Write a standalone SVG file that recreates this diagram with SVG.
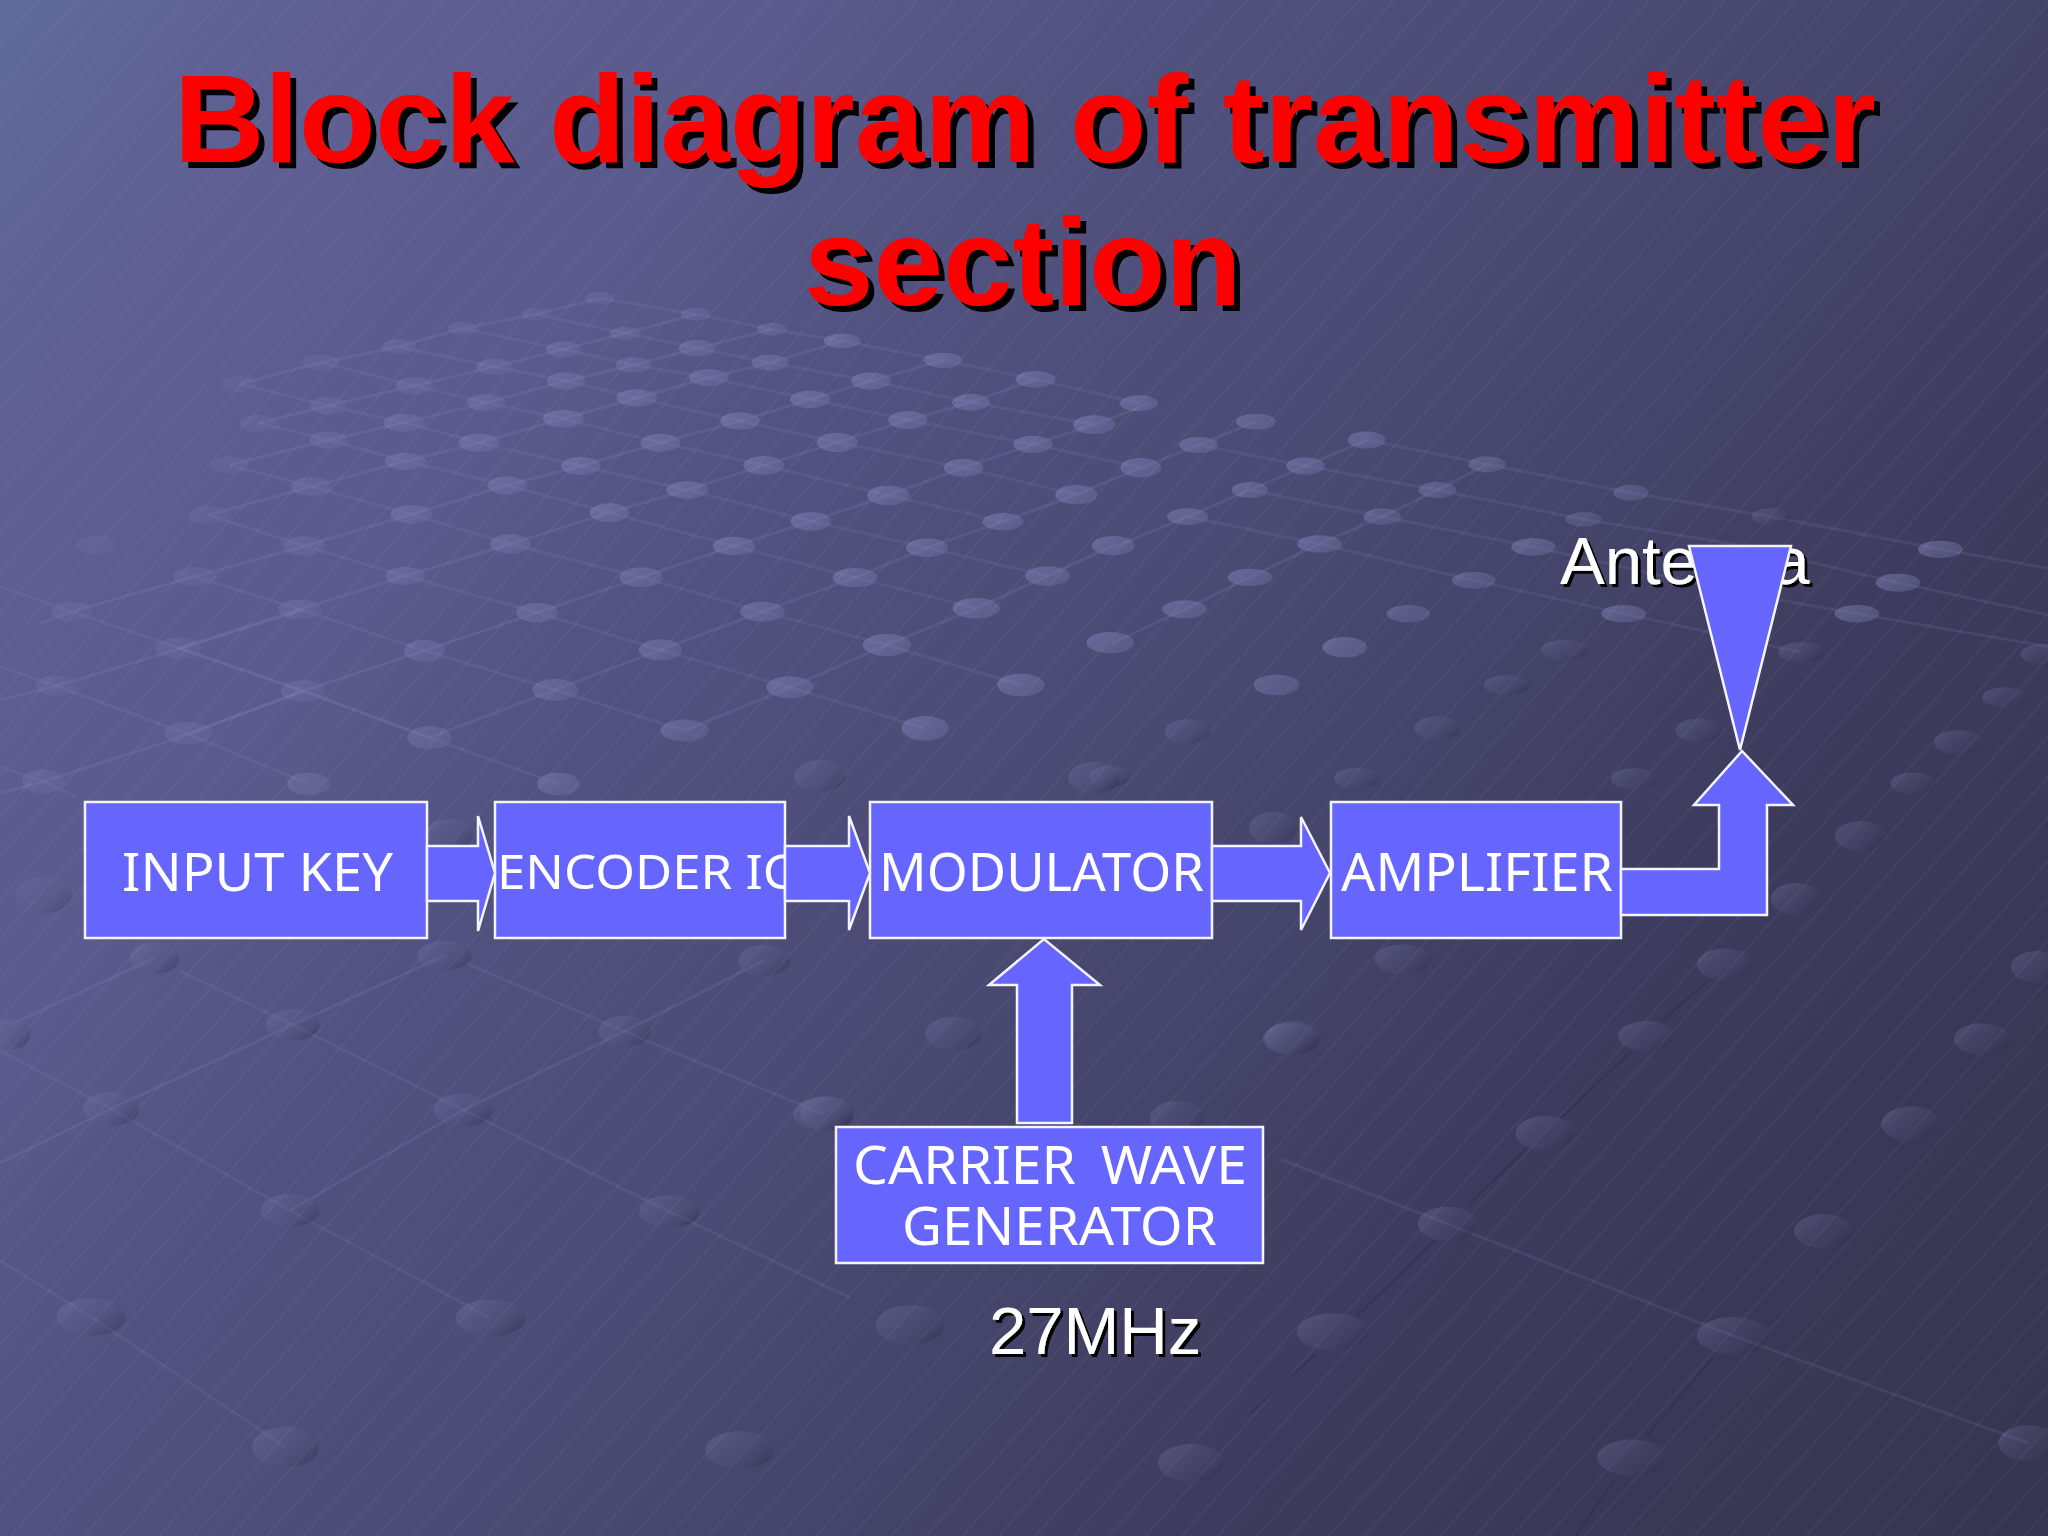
<svg xmlns="http://www.w3.org/2000/svg" width="2048" height="1536" viewBox="0 0 2048 1536">
<style>
.box,.arrow{fill:#6666ff;stroke:#f4f4ff;stroke-width:2.5;stroke-linejoin:miter}
.lbl{font-family:"Noto Sans","DejaVu Sans",sans-serif;fill:#fff;font-size:53px}
.txt{font-family:"Liberation Sans",Arial,sans-serif;fill:#fff;font-size:67px;filter:url(#ts)}
.title{font-family:"Liberation Sans",Arial,sans-serif;font-weight:700;fill:#ff0000;font-size:125px;filter:url(#tts)}
.fall,.rise,.drk{fill:none;vector-effect:non-scaling-stroke}
.fall{stroke:#8f90c4;stroke-opacity:.13;stroke-width:3}
.rise{stroke:#8f90c4;stroke-opacity:.17;stroke-width:3}
.drk{stroke:#25243f;stroke-opacity:.3;stroke-width:2}
.du{fill:url(#dotU)}
.dl{fill:url(#dotL)}
</style>
<defs>
<linearGradient id="bg" gradientUnits="userSpaceOnUse" x1="0" y1="0" x2="2048" y2="1536">
<stop offset="0" stop-color="#5f6c9a"/>
<stop offset=".08" stop-color="#5f6094"/>
<stop offset=".25" stop-color="#5a5a8c"/>
<stop offset=".35" stop-color="#525280"/>
<stop offset=".5" stop-color="#4b4b75"/>
<stop offset=".75" stop-color="#3d3b5c"/>
<stop offset="1" stop-color="#37344f"/>
</linearGradient>
<linearGradient id="dotU" x1="0" y1="0" x2="1" y2=".6">
<stop offset="0" stop-color="#8f90c8" stop-opacity=".46"/>
<stop offset="1" stop-color="#7a7cb0" stop-opacity=".34"/>
</linearGradient>
<linearGradient id="dotL" x1="0" y1=".1" x2="1" y2=".8">
<stop offset="0" stop-color="#8486b8" stop-opacity=".32"/>
<stop offset=".55" stop-color="#63648f" stop-opacity=".18"/>
<stop offset="1" stop-color="#1f1e38" stop-opacity=".35"/>
</linearGradient>
<pattern id="hatch" patternUnits="userSpaceOnUse" width="136" height="400" patternTransform="rotate(42)">
<path d="M2 0V400M29 0V400M58 0V400M84 0V400M111 0V400" stroke="#c8c8f0" stroke-opacity=".1" stroke-width="1"/>
</pattern>
<filter id="ts" x="-5%" y="-10%" width="110%" height="125%"><feDropShadow dx="3" dy="3" stdDeviation="0" flood-color="#000"/></filter>
<filter id="tts" x="-2%" y="-10%" width="104%" height="125%"><feDropShadow dx="6" dy="6" stdDeviation="0" flood-color="#000"/></filter>
</defs>

<rect id="background" width="2048" height="1536" fill="url(#bg)"/>

<g id="texture">
<g transform="translate(150 280) scale(.638 .3333)">
<polyline class="rise" points="60,1360 240,1233 430,1112 607,998 770,892 915,798 1036,724 1157,646 1275,563 1384,493 1480,434 1568,370"/>
<polyline class="rise" points="438,1373 635,1230 800,1110 960,995 1105,893 1218,803 1337,725 1452,644 1553,563"/>
<polyline class="rise" points="838,1352 1003,1222 1155,1095 1295,985 1407,888 1510,797"/>
<polyline class="rise" points="45,1105 235,988 400,888 565,792 720,698 842,630 962,556 1077,487 1188,420 1287,367 1388,298"/>
<polyline class="rise" points="70,890 242,798 410,703 560,616 675,558 800,488 925,423 1035,358 1130,303 1243,241"/>
<polyline class="rise" points="92,705 253,620 400,544 516,488 648,416 763,354 876,293 972,248 1085,183"/>
<polyline class="rise" points="125,555 280,480 398,428 527,368 652,303 758,255 857,205 975,148"/>
<polyline class="rise" points="170,430 280,377 415,317 540,260 648,208 745,160 855,103"/>
<polyline class="rise" points="140,312 268,248 390,200 490,145 605,103 705,55"/>
<polyline class="fall" points="705,55 855,103 975,148 1085,183 1243,241 1388,298 1550,370"/>
<polyline class="fall" points="605,103 745,160 857,205 972,248 1130,303 1287,367 1480,434"/>
<polyline class="fall" points="490,145 648,208 758,255 876,293 1035,358 1188,420 1384,493 1553,563"/>
<polyline class="fall" points="390,200 540,260 652,303 763,354 925,423 1077,487 1275,563 1452,644"/>
<polyline class="fall" points="268,248 415,317 527,368 648,416 800,488 962,556 1157,646 1337,725"/>
<polyline class="fall" points="140,312 280,377 398,428 516,488 675,558 842,630 1036,724 1218,803 1407,888"/>
<polyline class="fall" points="170,430 280,480 400,544 560,616 720,698 915,798 1105,893 1295,985"/>
<polyline class="fall" points="125,555 253,620 410,703 565,792 770,892 960,995 1155,1095 1365,1215"/>
<polyline class="fall" points="92,705 242,798 400,888 607,998 800,1110 1003,1222 1215,1345"/>
<polyline class="fall" points="70,890 235,988 430,1112 635,1230 838,1352"/>
<polyline class="fall" points="45,1105 240,1233 438,1373"/>
<g class="du">
<ellipse cx="705" cy="55" rx="23" ry="19" opacity=".5"/><ellipse cx="855" cy="103" rx="23" ry="19" opacity=".6"/><ellipse cx="605" cy="103" rx="23" ry="19" opacity=".45"/><ellipse cx="490" cy="145" rx="23" ry="19" opacity=".45"/><ellipse cx="745" cy="160" rx="24" ry="19" opacity=".6"/><ellipse cx="975" cy="148" rx="23" ry="19" opacity=".7"/><ellipse cx="1085" cy="183" rx="29" ry="22"/><ellipse cx="390" cy="200" rx="27" ry="22" opacity=".5"/><ellipse cx="648" cy="208" rx="28" ry="24" opacity=".7"/><ellipse cx="857" cy="205" rx="28" ry="25" opacity=".8"/>
<ellipse cx="268" cy="248" rx="28" ry="24" opacity=".4"/><ellipse cx="540" cy="260" rx="28" ry="24" opacity=".6"/><ellipse cx="758" cy="255" rx="28" ry="23" opacity=".7"/><ellipse cx="972" cy="248" rx="29" ry="24" opacity=".85"/><ellipse cx="1243" cy="241" rx="30" ry="23"/><ellipse cx="140" cy="312" rx="28" ry="24" opacity=".3"/><ellipse cx="415" cy="317" rx="30" ry="26" opacity=".6"/><ellipse cx="652" cy="303" rx="30" ry="26" opacity=".8"/><ellipse cx="876" cy="293" rx="31" ry="25" opacity=".9"/><ellipse cx="1130" cy="303" rx="31" ry="26"/><ellipse cx="1388" cy="298" rx="31" ry="25"/>
<ellipse cx="280" cy="377" rx="29" ry="26" opacity=".5"/><ellipse cx="527" cy="368" rx="30" ry="26" opacity=".7"/><ellipse cx="763" cy="354" rx="32" ry="26" opacity=".9"/><ellipse cx="1035" cy="358" rx="32" ry="26"/><ellipse cx="1287" cy="367" rx="30" ry="25"/><ellipse cx="1550" cy="370" rx="30" ry="24"/>
<ellipse cx="170" cy="430" rx="30" ry="26" opacity=".4"/><ellipse cx="398" cy="428" rx="32" ry="27" opacity=".7"/><ellipse cx="648" cy="416" rx="32" ry="27" opacity=".9"/><ellipse cx="925" cy="423" rx="31" ry="26"/><ellipse cx="1188" cy="420" rx="31" ry="27"/><ellipse cx="1480" cy="434" rx="33" ry="28"/>
<ellipse cx="280" cy="480" rx="30" ry="26" opacity=".55"/><ellipse cx="516" cy="488" rx="32" ry="27" opacity=".85"/><ellipse cx="800" cy="488" rx="31" ry="27" opacity=".95"/><ellipse cx="1077" cy="487" rx="32" ry="29"/><ellipse cx="1384" cy="493" rx="31" ry="26"/>
<ellipse cx="125" cy="555" rx="30" ry="27" opacity=".35"/><ellipse cx="400" cy="544" rx="32" ry="26" opacity=".75"/><ellipse cx="675" cy="558" rx="31" ry="27" opacity=".95"/><ellipse cx="962" cy="556" rx="32" ry="28"/><ellipse cx="1275" cy="563" rx="31" ry="27"/><ellipse cx="1553" cy="563" rx="32" ry="29"/>
<ellipse cx="253" cy="620" rx="32" ry="28" opacity=".55"/><ellipse cx="560" cy="616" rx="31" ry="27" opacity=".85"/><ellipse cx="842" cy="630" rx="33" ry="26" opacity=".95"/><ellipse cx="1157" cy="646" rx="33" ry="29"/><ellipse cx="1452" cy="644" rx="33" ry="29"/>
<ellipse cx="92" cy="705" rx="32" ry="28" opacity=".35"/><ellipse cx="410" cy="703" rx="33" ry="28" opacity=".75"/><ellipse cx="720" cy="698" rx="31" ry="28" opacity=".95"/><ellipse cx="1036" cy="724" rx="32" ry="28"/><ellipse cx="1337" cy="725" rx="32" ry="26"/>
<ellipse cx="242" cy="798" rx="33" ry="29" opacity=".55"/><ellipse cx="565" cy="792" rx="32" ry="29" opacity=".8"/><ellipse cx="915" cy="798" rx="33" ry="28"/><ellipse cx="1218" cy="803" rx="33" ry="28"/><ellipse cx="1510" cy="797" rx="34" ry="29"/>
<ellipse cx="70" cy="890" rx="34" ry="29" opacity=".4"/><ellipse cx="400" cy="888" rx="31" ry="28" opacity=".7"/><ellipse cx="770" cy="892" rx="34" ry="30" opacity=".85"/><ellipse cx="1105" cy="893" rx="35" ry="29"/><ellipse cx="1407" cy="888" rx="35" ry="29"/>
<ellipse cx="235" cy="988" rx="34" ry="29" opacity=".55"/><ellipse cx="607" cy="998" rx="33" ry="29" opacity=".8"/><ellipse cx="960" cy="995" rx="35" ry="30" opacity=".9"/><ellipse cx="1295" cy="985" rx="37" ry="31"/>
<ellipse cx="45" cy="1105" rx="36" ry="32" opacity=".45"/><ellipse cx="430" cy="1112" rx="32" ry="32" opacity=".7"/><ellipse cx="800" cy="1110" rx="34" ry="32" opacity=".85"/><ellipse cx="1155" cy="1095" rx="38" ry="33"/><ellipse cx="1505" cy="1088" rx="37" ry="32"/>
<ellipse cx="240" cy="1233" rx="35" ry="32" opacity=".55"/><ellipse cx="635" cy="1230" rx="36" ry="33" opacity=".75"/><ellipse cx="1003" cy="1222" rx="37" ry="33" opacity=".95"/><ellipse cx="1365" cy="1215" rx="37" ry="34"/>
<ellipse cx="60" cy="1360" rx="38" ry="34" opacity=".5"/><ellipse cx="438" cy="1373" rx="35" ry="34" opacity=".7"/><ellipse cx="838" cy="1352" rx="38" ry="33" opacity=".8"/><ellipse cx="1215" cy="1345" rx="37" ry="37"/>
</g>
</g>

<g transform="translate(0 500) scale(.51 .3333)">
<polyline class="fall" points="0,260 140,335 355,445 595,573 845,715 1095,852"/>
<polyline class="fall" points="0,500 110,558 370,703 605,852"/>
<polyline class="fall" points="0,800 85,845 150,890"/>
<polyline class="rise" points="0,600 110,558 355,445 595,330"/>
<polyline class="rise" points="0,880 85,845 370,703 595,573"/>
<polyline class="rise" points="80,370 140,335 380,230"/>
<g class="du">
<ellipse cx="190" cy="135" rx="40" ry="28" opacity=".3"/><ellipse cx="140" cy="335" rx="40" ry="30" opacity=".4"/><ellipse cx="110" cy="558" rx="40" ry="32" opacity=".4"/><ellipse cx="85" cy="845" rx="42" ry="36" opacity=".45"/>
<ellipse cx="605" cy="852" rx="42" ry="34" opacity=".7"/><ellipse cx="1095" cy="852" rx="42" ry="34" opacity=".85"/>
</g>
</g>

<g transform="translate(1100 400) scale(.6046 .3333)">
<polyline class="fall" points="441,120 640,193 878,278 1110,350 1390,448 1568,505"/>
<polyline class="fall" points="163,135 340,198 558,270 800,358 1040,430 1320,548 1568,645"/>
<polyline class="fall" points="145,350 363,432 618,541 866,641 1160,757"/>
<polyline class="fall" points="248,270 467,350 717,441 1060,580 1252,641 1568,740"/>
<polyline class="rise" points="66,205 163,135 258,65"/>
<polyline class="rise" points="145,350 248,270 340,198 441,120"/>
<polyline class="rise" points="25,440 145,350"/>
<polyline class="rise" points="248,532 363,432 467,350 558,270 640,193"/>
<polyline class="rise" points="20,730 140,628 248,532"/>
<g class="du">
<ellipse cx="258" cy="65" rx="33" ry="24"/><ellipse cx="163" cy="135" rx="32" ry="24"/><ellipse cx="441" cy="120" rx="31" ry="26"/><ellipse cx="340" cy="198" rx="32" ry="26"/><ellipse cx="640" cy="193" rx="31" ry="24" opacity=".85"/><ellipse cx="248" cy="270" rx="30" ry="24"/><ellipse cx="558" cy="270" rx="31" ry="24" opacity=".85"/><ellipse cx="878" cy="278" rx="29" ry="24" opacity=".8"/><ellipse cx="145" cy="350" rx="34" ry="25"/><ellipse cx="467" cy="350" rx="31" ry="25" opacity=".85"/><ellipse cx="800" cy="358" rx="30" ry="22" opacity=".7"/>
<ellipse cx="363" cy="432" rx="37" ry="26"/><ellipse cx="717" cy="441" rx="37" ry="26"/><ellipse cx="1390" cy="448" rx="37" ry="26"/><ellipse cx="248" cy="532" rx="37" ry="26"/><ellipse cx="618" cy="541" rx="36" ry="25" opacity=".85"/><ellipse cx="1320" cy="548" rx="37" ry="27"/><ellipse cx="140" cy="628" rx="37" ry="27"/><ellipse cx="510" cy="641" rx="36" ry="26" opacity=".85"/><ellipse cx="866" cy="641" rx="37" ry="26"/><ellipse cx="1252" cy="641" rx="37" ry="26"/><ellipse cx="405" cy="742" rx="37" ry="31"/><ellipse cx="292" cy="855" rx="38" ry="31" opacity=".9"/>
</g>
<g class="dl">
<ellipse cx="1110" cy="350" rx="32" ry="25"/><ellipse cx="768" cy="750" rx="38" ry="30"/><ellipse cx="1160" cy="757" rx="38" ry="30"/><ellipse cx="1560" cy="762" rx="38" ry="30"/><ellipse cx="673" cy="855" rx="38" ry="30"/><ellipse cx="1497" cy="892" rx="38" ry="30"/><ellipse cx="145" cy="995" rx="38" ry="37"/><ellipse cx="558" cy="985" rx="38" ry="36"/><ellipse cx="990" cy="992" rx="38" ry="36"/><ellipse cx="1420" cy="1027" rx="40" ry="36"/><ellipse cx="425" cy="1135" rx="38" ry="32"/><ellipse cx="883" cy="1137" rx="38" ry="32"/><ellipse cx="1345" cy="1150" rx="38" ry="32"/><ellipse cx="15" cy="1130" rx="34" ry="32"/>
</g>
</g>

<g transform="translate(0 950) scale(.542 .3737)">
<polyline class="fall" points="330,55 540,200 855,428 1235,700 1568,930"/>
<polyline class="fall" points="0,270 205,425 535,697 905,985"/>
<polyline class="fall" points="0,830 168,982 527,1330"/>
<polyline class="fall" points="860,35 1152,218 1520,440"/>
<polyline class="rise" points="20,200 285,22" stroke-opacity=".07"/>
<polyline class="rise" points="205,425 540,200 820,15" stroke-opacity=".07"/>
<polyline class="rise" points="855,428 1152,218 1410,28" stroke-opacity=".07"/>
<polyline class="rise" points="0,570 205,425" stroke-opacity=".07"/>
<polyline class="rise" points="535,697 855,428" stroke-opacity=".07"/>
<g class="dl">
<ellipse cx="285" cy="22" rx="46" ry="42"/><ellipse cx="820" cy="15" rx="50" ry="40"/><ellipse cx="1410" cy="28" rx="48" ry="42"/><ellipse cx="20" cy="225" rx="36" ry="42"/><ellipse cx="540" cy="200" rx="50" ry="42"/><ellipse cx="1152" cy="218" rx="48" ry="42"/><ellipse cx="205" cy="425" rx="52" ry="46"/><ellipse cx="855" cy="428" rx="54" ry="44"/><ellipse cx="1520" cy="440" rx="56" ry="46"/><ellipse cx="535" cy="697" rx="54" ry="44"/><ellipse cx="1235" cy="700" rx="56" ry="44"/><ellipse cx="168" cy="982" rx="64" ry="50"/><ellipse cx="905" cy="985" rx="64" ry="50"/><ellipse cx="527" cy="1330" rx="62" ry="54"/><ellipse cx="1365" cy="1338" rx="64" ry="50"/>
</g>
</g>

<g transform="translate(1250 950) scale(.509 .3737)">
<polyline class="fall" points="60,560 388,733 948,1032 1530,1320" stroke-opacity=".08"/>
<path class="drk" d="M210 980L365 775M430 680L545 530M610 450L750 270M810 190L900 80M780 1300L910 1090M640 1568L715 1420M0 1240L130 1080"/>
<g class="dl">
<ellipse cx="300" cy="25" rx="55" ry="40"/><ellipse cx="933" cy="38" rx="55" ry="42"/><ellipse cx="1545" cy="45" rx="50" ry="42"/><ellipse cx="80" cy="238" rx="55" ry="42"/><ellipse cx="778" cy="230" rx="55" ry="40"/><ellipse cx="1438" cy="238" rx="55" ry="42"/><ellipse cx="580" cy="490" rx="58" ry="46"/><ellipse cx="1298" cy="465" rx="58" ry="46"/><ellipse cx="388" cy="733" rx="58" ry="46"/><ellipse cx="1127" cy="753" rx="58" ry="46"/><ellipse cx="162" cy="1022" rx="70" ry="50"/><ellipse cx="948" cy="1032" rx="70" ry="50"/><ellipse cx="750" cy="1358" rx="68" ry="48"/><ellipse cx="1530" cy="1320" rx="60" ry="48"/>
</g>
</g>

<g class="dl">
<ellipse cx="953" cy="1034" rx="28" ry="17"/><ellipse cx="1293" cy="1038" rx="28" ry="17"/><ellipse cx="827" cy="1113" rx="27" ry="17"/><ellipse cx="1177" cy="1118" rx="27" ry="17"/><ellipse cx="910" cy="1325" rx="34" ry="20"/><ellipse cx="1191" cy="1463" rx="33" ry="19"/><ellipse cx="1860" cy="836" rx="25" ry="15"/><ellipse cx="1796" cy="899" rx="25" ry="16"/><ellipse cx="1273" cy="828" rx="24" ry="16"/><ellipse cx="449" cy="835" rx="24" ry="16"/><ellipse cx="820" cy="776" rx="26" ry="16"/><ellipse cx="1094" cy="778" rx="26" ry="16"/><ellipse cx="44" cy="895" rx="28" ry="18" opacity=".7"/>
</g>
<rect id="hatching" width="2048" height="1536" fill="url(#hatch)"/>
</g>

<text class="title" x="174" y="162">Block diagram of transmitter</text>
<text class="title" x="804" y="305">section</text>

<g id="input-key"><rect class="box" x="85" y="802" width="342" height="136"/><text class="lbl" x="122" y="891" textLength="271" lengthAdjust="spacingAndGlyphs">INPUT KEY</text></g>
<g id="encoder-ic"><rect class="box" x="495" y="802" width="290" height="136"/><text class="lbl" x="497" y="889" style="font-size:47px" textLength="298" lengthAdjust="spacingAndGlyphs">ENCODER IC</text></g>
<g id="modulator"><rect class="box" x="870" y="802" width="342" height="136"/><text class="lbl" x="879" y="891" textLength="325" lengthAdjust="spacingAndGlyphs">MODULATOR</text></g>
<g id="amplifier"><rect class="box" x="1331" y="802" width="290" height="136"/><text class="lbl" x="1341" y="891" textLength="272" lengthAdjust="spacingAndGlyphs">AMPLIFIER</text></g>
<g id="carrier"><rect class="box" x="836" y="1127" width="427" height="136"/><text class="lbl" x="853" y="1184" textLength="394" lengthAdjust="spacingAndGlyphs" word-spacing="10">CARRIER WAVE</text><text class="lbl" x="902" y="1245" textLength="315" lengthAdjust="spacingAndGlyphs">GENERATOR</text></g>

<g id="antenna-label"><text class="txt" x="1560" y="584">Antenna</text></g>
<g id="freq-label"><text class="txt" x="989" y="1354">27MHz</text></g>

<g id="connectors">
<path class="arrow" d="M427 846H478V816L495 873L478 931V901H427Z"/>
<path class="arrow" d="M785 846H849V816L870 873L849 930V901H785Z"/>
<path class="arrow" d="M1212 846H1301V817L1330 873L1301 930V901H1212Z"/>
<path class="arrow" d="M1621 869H1719V805H1694L1742 751L1793 805H1767V915H1621Z"/>
<path class="arrow" d="M1017 1123V985H989L1044 939L1100 985H1072V1123Z"/>
</g>
<g id="antenna"><path class="arrow" d="M1689 546H1791L1740 750Z"/></g>
</svg>
